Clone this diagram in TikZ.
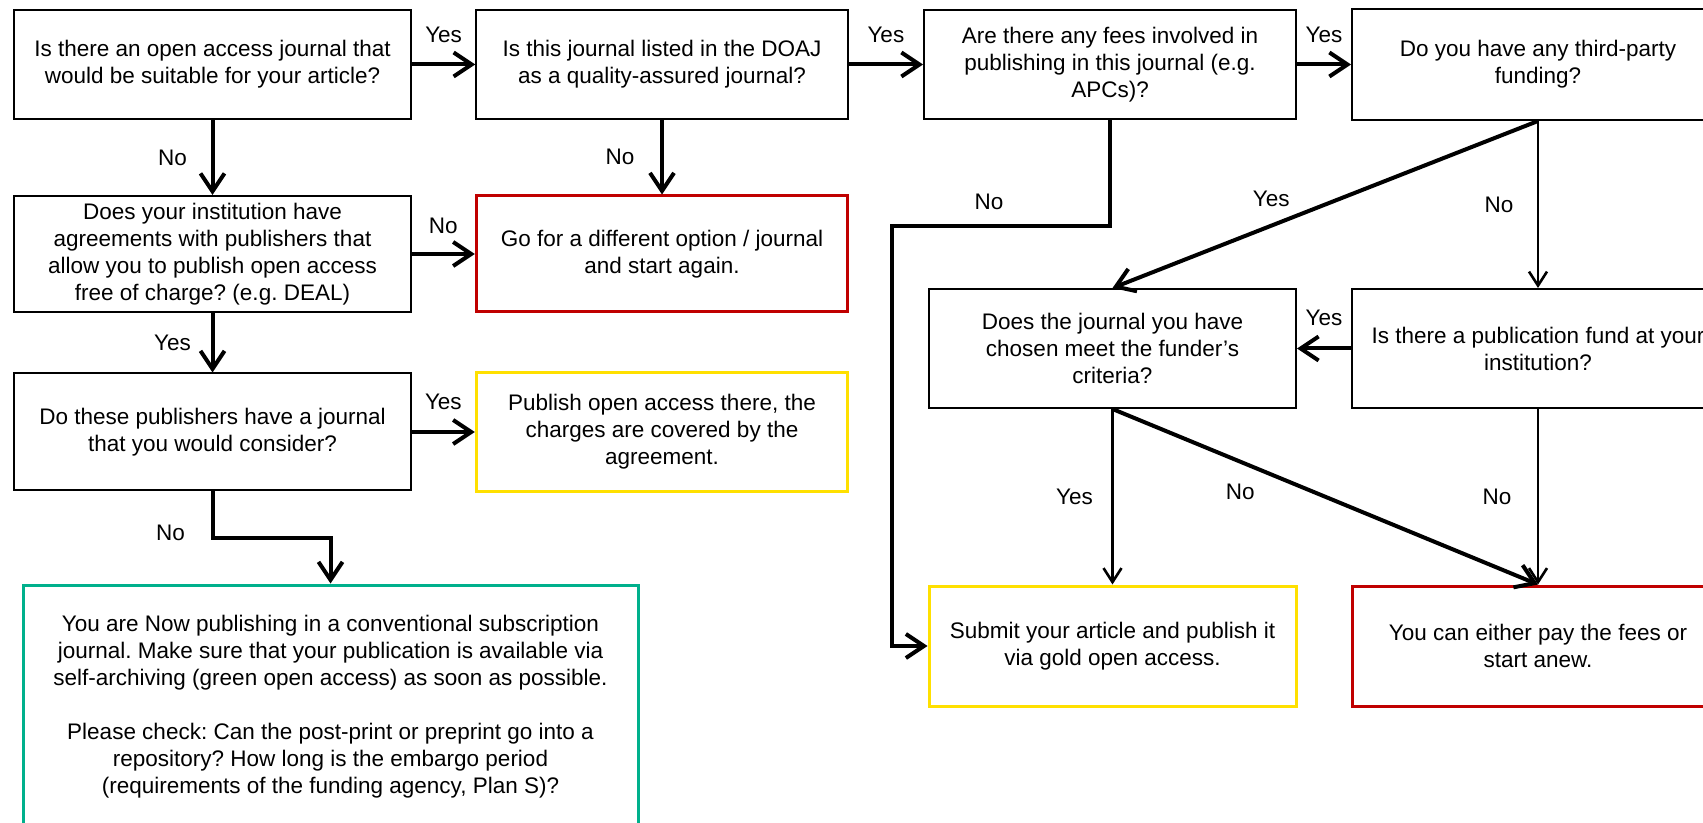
\documentclass[tikz,border=0pt]{standalone}
\usepackage{fontspec}
\setmainfont{Liberation Sans}
\usetikzlibrary{arrows.meta}
\definecolor{stopred}{HTML}{C00000}
\definecolor{goyellow}{HTML}{FFE000}
\definecolor{oagreen}{HTML}{00B08C}
\frenchspacing

\begin{document}
\begin{tikzpicture}[x=0.5pt, y=-0.5pt, font=\fontsize{11.25}{13.5}\selectfont,
  main/.style = {draw, line width=1pt, align=center},
  stop/.style = {main, draw=stopred, line width=1.5pt},
  pass/.style = {main, draw=goyellow, line width=1.5pt},
  oa/.style = {main, draw=oagreen, line width=1.5pt},
  arr/.style = {-{Straight Barb[length=9pt, width=12pt]}, line width=2pt},
  arrlight/.style = {-{Straight Barb[length=7pt, width=9pt]}, line width=1.3pt}]
  \useasboundingbox (0,0) rectangle (1703,823);
  \clip (0,0) rectangle (1703,823);

  \node[main, minimum width=198.5pt, minimum height=54.5pt] (0) at (212.5,64.5) {Is there an open access journal that\\would be suitable for your article?};
  \node[main, minimum width=185.75pt, minimum height=54.5pt] (1) at (662,64.5) {Is this journal listed in the DOAJ\\as a quality-assured journal?};
  \node[main, minimum width=186pt, minimum height=54.5pt] (2) at (1110,64.5) {Are there any fees involved in\\publishing in this journal (e.g.\\APCs)?};
  \node[main, minimum width=186pt, minimum height=55.5pt] (3) at (1538,64.5) {Do you have any third-party\\funding?};
  \node[main, minimum width=198.5pt, minimum height=58pt] (4) at (212.5,254) {Does your institution have\\agreements with publishers that\\allow you to publish open access\\free of charge? (e.g. DEAL)};
  \node[stop, minimum width=185.75pt, minimum height=58pt] (5) at (662,254) {Go for a different option / journal\\and start again.};
  \node[main, minimum width=198.5pt, minimum height=58.5pt] (6) at (212.5,432) {Do these publishers have a journal\\that you would consider?};
  \node[pass, minimum width=185.75pt, minimum height=59.5pt] (7) at (662,432) {Publish open access there, the\\charges are covered by the\\agreement.};
  \node[oa, minimum width=307.5pt, minimum height=121.5pt] (8) at (330.5,706.5) {You are Now publishing in a conventional subscription\\journal. Make sure that your publication is available via\\self-archiving (green open access) as soon as possible.\\[13.5pt]Please check: Can the post-print or preprint go into a\\repository? How long is the embargo period\\(requirements of the funding agency, Plan S)?};
  \node[main, minimum width=183.5pt, minimum height=59.5pt] (9) at (1112.5,348.5) {Does the journal you have\\chosen meet the funder’s\\criteria?};
  \node[main, minimum width=186pt, minimum height=59.5pt] (10) at (1538,348.5) {Is there a publication fund at your\\institution?};
  \node[pass, minimum width=183.5pt, minimum height=60pt] (11) at (1112.5,646) {Submit your article and publish it\\via gold open access.};
  \node[stop, minimum width=186pt, minimum height=60pt] (12) at (1538,646) {You can either pay the fees or\\start anew.};

  \draw[arr] (0) -- node[midway, yshift=15pt]{Yes} (1);
  \draw[arr] (1) -- node[midway, yshift=15pt]{Yes} (2);
  \draw[arr] (2) -- node[midway, yshift=15pt]{Yes} (3);
  \draw[arr] (0) -- node[midway, xshift=-20pt]{No} (4);
  \draw[arr] (1) -- node[midway, xshift=-21pt]{No} (5);
  \draw[arr] (4) -- node[midway, yshift=14pt]{No} (5);
  \draw[arr] (4) -- node[midway, xshift=-20pt]{Yes} (6);
  \draw[arr] (6) -- node[midway, yshift=15pt]{Yes} (7);
  \draw[arr] (6.south) -- node[pos=.9, xshift=-21pt]{No} ++(0,46) -| (8);
  \draw[arr] (2.south) -- ++(0,106) -- node[midway, xshift=-6pt, yshift=12pt]{No} ++(-218,0) |- (11);
  \draw[arr] (3.south) -- node[midway, xshift=-27pt, yshift=3pt]{Yes} (9.north);
  \draw[arrlight] (3) -- node[midway, xshift=-19.5pt]{No} (10);
  \draw[arr] (10) -- node[midway, yshift=15.5pt]{Yes} (9);
  \draw[arrlight] (9) -- node[midway, xshift=-19pt]{Yes} (11);
  \draw[arr] (9.south) -- node[midway, xshift=-42.5pt, yshift=2.5pt]{No} (12.north);
  \draw[arrlight] (10) -- node[midway, xshift=-20.5pt]{No} (12);
\end{tikzpicture}
\end{document}
